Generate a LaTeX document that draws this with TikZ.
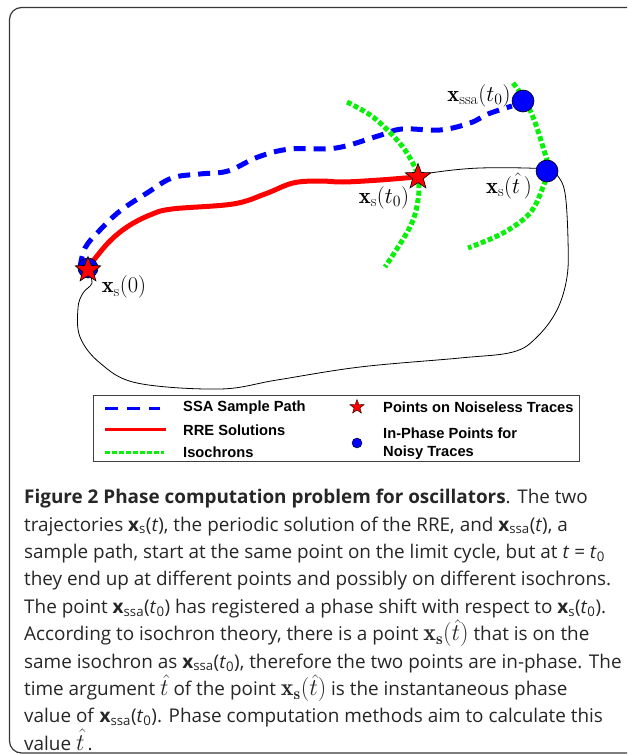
\RequirePackage{fix-cm}
\documentclass[tikz,border=0pt]{standalone}
\usepackage{fontspec}
\newfontfamily\capfont{Open Sans}
\newfontfamily\legfont{Liberation Sans}
\usetikzlibrary{shapes.geometric,positioning}
\definecolor{isogreen}{RGB}{10,240,10}
\definecolor{framegray}{RGB}{55,55,55}
\newcommand{\vx}[1]{\textbf{x}\textsubscript{#1}}
\newcommand{\bigxs}{{\fontsize{24}{27}\selectfont$\mathbf{x}_{\mathbf{s}}\bigl(\hat{t}\bigr)$}}
\tikzset{
  ssapath/.style={blue, line width=5pt, dash pattern=on 12pt off 8pt},
  rrepath/.style={red, line width=5pt, line cap=round},
  isochron/.style={isogreen, line width=5pt, dash pattern=on 5pt off 2.5pt},
  limitcycle/.style={black, line width=0.8pt},
  redstar/.style={star, star points=5, star point ratio=2.4, fill=red, draw=black, line width=0.6pt, minimum size=27pt, inner sep=0pt},
  bluedot/.style={circle, fill=blue, draw=black, line width=0.6pt, minimum size=22pt, inner sep=0pt},
  lbl/.style={font=\fontsize{22.5}{26}\selectfont, inner sep=0pt},
  legtext/.style={font=\legfont\bfseries\fontsize{14.7}{18}\selectfont, anchor=west, inner sep=0pt, align=left},
}
\begin{document}
\begin{tikzpicture}[x=1pt,y=-1pt]
\useasboundingbox (0,0) rectangle (627,754);
\clip (0,0) rectangle (627,754);
% frame
\draw[framegray, line width=1.2pt, rounded corners=12pt] (9.5,7.5) rectangle (660,753);
% limit cycle
\draw[limitcycle] plot[smooth, tension=0.6] coordinates {(88,270) (92,283) (83,293) (78,308) (80,337) (100,363) (137,383) (220,389) (277,380) (360,367) (460,358) (513,352) (537,337) (557,310) (567,277) (568,240) (565,193) (557,175) (547,169) (480,168) (430,173) (418,177)};
% SSA sample path
\draw[ssapath] plot[smooth, tension=0.6] coordinates {(80,268) (85,248) (100,230) (120,211) (147,193) (172,178) (200,174) (228,171) (258,157) (290,149) (336,148) (378,136) (402,129) (440,130) (470,123) (488,114) (512,106)};
% isochrons
\draw[isochron] plot[smooth, tension=0.6] coordinates {(347,102) (373,117) (397,140) (410,158) (418,177) (418,200) (410,227) (385,267)};
\draw[isochron] plot[smooth, tension=0.6] coordinates {(513,83) (523,97) (533,117) (543,147) (548,168) (543,187) (530,213) (503,233) (468,248)};
% RRE solution
\draw[rrepath] plot[smooth, tension=0.6] coordinates {(90,265) (108,243) (127,227) (150,215) (172,209) (233,204) (265,194) (293,183) (320,181) (343,182) (380,180) (417,177)};
% points
\node[bluedot, minimum size=20pt] (ssa0) at (88,268) {};
\node[redstar] (s0) at (88,270) {};
\node[redstar] (st0) at (418,177) {};
\node[bluedot] (ssat0) at (523,101) {};
\node[bluedot] (sthat) at (547,171) {};
% labels
\node[lbl, left=1pt of ssat0, yshift=5pt] (lssat0) {$\mathbf{x}_{\mathrm{ssa}}(t_0)$};
\node[lbl] (lst0) at (384,198) {$\mathbf{x}_{\mathrm{s}}(t_0)$};
\node[lbl] (lsthat) at (509,186) {$\mathbf{x}_{\mathrm{s}}(\hat{t}\,)$};
\node[lbl] (ls0) at (124,287) {$\mathbf{x}_{\mathrm{s}}(0)$};
% legend
\draw[black!75, line width=0.9pt] (93,395) rectangle (579,461);
\coordinate (ssaa) at (105,408); \coordinate (ssab) at (160,408);
\coordinate (rrea) at (105,429); \coordinate (rreb) at (166,429);
\coordinate (isoa) at (105,452); \coordinate (isob) at (164,452);
\draw[blue, line width=3pt, dash pattern=on 13pt off 9pt] (ssaa) -- (ssab);
\draw[red, line width=3pt] (rrea) -- (rreb);
\draw[isogreen, line width=3pt, dash pattern=on 5pt off 2pt] (isoa) -- (isob);
\node[legtext] (tssa) at (183,408) {SSA Sample Path};
\node[legtext] (trre) at (183,430) {RRE Solutions};
\node[legtext] (tiso) at (183,452) {Isochrons};
\node[redstar, minimum size=15pt, line width=0.4pt] (legstar) at (357,407) {};
\node[bluedot, minimum size=10pt, line width=0.4pt] (legdot) at (357,443) {};
\node[legtext] (tstar) at (383,407) {Points on Noiseless Traces};
\node[legtext] (tdot) at (383,444) {In-Phase Points for\\Noisy Traces};
% caption
\node[anchor=north west, inner sep=0pt, align=left, font=\capfont\fontsize{18.9}{27.4}\selectfont, text=black!85] (caption) at (24,489) {%
\textbf{Figure 2 Phase computation problem for oscillators}. The two\\
trajectories \vx{s}(\textit{t}), the periodic solution of the RRE, and \vx{ssa}(\textit{t}), a\\
sample path, start at the same point on the limit cycle, but at \textit{t} = \textit{t}\textsubscript{0}\\
they end up at different points and possibly on different isochrons.\\
The point \vx{ssa}(\textit{t}\textsubscript{0}) has registered a phase shift with respect to \vx{s}(\textit{t}\textsubscript{0}).\\
According to isochron theory, there is a point \bigxs\ that is on the\\
same isochron as \vx{ssa}(\textit{t}\textsubscript{0}), therefore the two points are in-phase. The\\
time argument {\fontsize{24}{27}\selectfont$\hat{t}$} of the point \bigxs\ is the instantaneous phase\\
value of \vx{ssa}(\textit{t}\textsubscript{0}). Phase computation methods aim to calculate this\\
value {\fontsize{24}{27}\selectfont$\hat{t}$}\,.};
\end{tikzpicture}
\end{document}
